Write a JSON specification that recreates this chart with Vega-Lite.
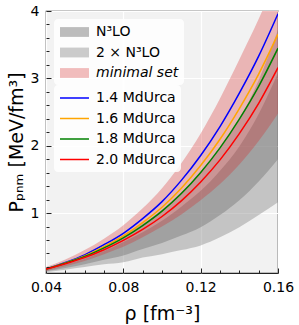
{
  "$schema": "https://vega.github.io/schema/vega-lite/v6.json",
  "width": 232,
  "height": 262,
  "autosize": {"type": "none"},
  "padding": {"left": 46, "top": 11, "right": 21, "bottom": 52},
  "background": "white",
  "config": {
    "view": {"fill": "#f2f2f2", "stroke": "#222222", "strokeWidth": 1.2},
    "font": "DejaVu Sans",
    "axis": {
      "labelFont": "DejaVu Sans", "titleFont": "DejaVu Sans",
      "labelColor": "black", "titleColor": "black",
      "labelFontSize": 14, "titleFontSize": 19, "titleFontWeight": "normal",
      "domain": false, "tickColor": "#222222", "tickWidth": 1,
      "gridColor": "white", "gridWidth": 1.2, "gridOpacity": 1
    },
    "legend": {
      "orient": "top-left", "offset": 8, "padding": 5,
      "fillColor": "rgba(255,255,255,0.85)", "strokeColor": null, "cornerRadius": 4,
      "labelFont": "DejaVu Sans", "labelFontSize": 14, "labelColor": "black", "labelLimit": 300,
      "symbolSize": 196, "rowPadding": 5.5, "labelOffset": 21,
      "layout": {"direction": "vertical", "margin": -9, "top-left": {"direction": "vertical", "margin": -9}}
    }
  },
  "datasets": {
    "bands": [
      {"series": "2 × N³LO", "rho": 0.04, "lo": 0.12, "hi": 0.18},
      {"series": "2 × N³LO", "rho": 0.05, "lo": 0.16, "hi": 0.26},
      {"series": "2 × N³LO", "rho": 0.06, "lo": 0.20, "hi": 0.36},
      {"series": "2 × N³LO", "rho": 0.07, "lo": 0.24, "hi": 0.50},
      {"series": "2 × N³LO", "rho": 0.08, "lo": 0.27, "hi": 0.67},
      {"series": "2 × N³LO", "rho": 0.09, "lo": 0.34, "hi": 0.84},
      {"series": "2 × N³LO", "rho": 0.10, "lo": 0.39, "hi": 1.05},
      {"series": "2 × N³LO", "rho": 0.11, "lo": 0.45, "hi": 1.31},
      {"series": "2 × N³LO", "rho": 0.12, "lo": 0.52, "hi": 1.60},
      {"series": "2 × N³LO", "rho": 0.13, "lo": 0.64, "hi": 1.96},
      {"series": "2 × N³LO", "rho": 0.14, "lo": 0.79, "hi": 2.39},
      {"series": "2 × N³LO", "rho": 0.15, "lo": 0.97, "hi": 2.97},
      {"series": "2 × N³LO", "rho": 0.16, "lo": 1.16, "hi": 3.72},
      {"series": "N³LO", "rho": 0.04, "lo": 0.135, "hi": 0.165},
      {"series": "N³LO", "rho": 0.05, "lo": 0.185, "hi": 0.235},
      {"series": "N³LO", "rho": 0.06, "lo": 0.24, "hi": 0.32},
      {"series": "N³LO", "rho": 0.07, "lo": 0.305, "hi": 0.435},
      {"series": "N³LO", "rho": 0.08, "lo": 0.37, "hi": 0.57},
      {"series": "N³LO", "rho": 0.09, "lo": 0.465, "hi": 0.715},
      {"series": "N³LO", "rho": 0.10, "lo": 0.555, "hi": 0.885},
      {"series": "N³LO", "rho": 0.11, "lo": 0.665, "hi": 1.095},
      {"series": "N³LO", "rho": 0.12, "lo": 0.79, "hi": 1.33},
      {"series": "N³LO", "rho": 0.13, "lo": 0.97, "hi": 1.63},
      {"series": "N³LO", "rho": 0.14, "lo": 1.19, "hi": 1.99},
      {"series": "N³LO", "rho": 0.15, "lo": 1.47, "hi": 2.47},
      {"series": "N³LO", "rho": 0.16, "lo": 1.80, "hi": 3.08},
      {"series": "minimal set", "rho": 0.04, "lo": 0.14, "hi": 0.20},
      {"series": "minimal set", "rho": 0.05, "lo": 0.21, "hi": 0.31},
      {"series": "minimal set", "rho": 0.06, "lo": 0.29, "hi": 0.45},
      {"series": "minimal set", "rho": 0.07, "lo": 0.39, "hi": 0.62},
      {"series": "minimal set", "rho": 0.08, "lo": 0.50, "hi": 0.82},
      {"series": "minimal set", "rho": 0.09, "lo": 0.64, "hi": 1.07},
      {"series": "minimal set", "rho": 0.10, "lo": 0.80, "hi": 1.37},
      {"series": "minimal set", "rho": 0.11, "lo": 0.98, "hi": 1.74},
      {"series": "minimal set", "rho": 0.12, "lo": 1.19, "hi": 2.18},
      {"series": "minimal set", "rho": 0.13, "lo": 1.43, "hi": 2.70},
      {"series": "minimal set", "rho": 0.14, "lo": 1.72, "hi": 3.28},
      {"series": "minimal set", "rho": 0.15, "lo": 2.07, "hi": 3.88},
      {"series": "minimal set", "rho": 0.16, "lo": 2.48, "hi": 4.55}
    ],
    "lines": [
      {"series": "1.4 MdUrca", "rho": 0.04, "p": 0.17},
      {"series": "1.4 MdUrca", "rho": 0.05, "p": 0.266},
      {"series": "1.4 MdUrca", "rho": 0.06, "p": 0.38},
      {"series": "1.4 MdUrca", "rho": 0.07, "p": 0.53},
      {"series": "1.4 MdUrca", "rho": 0.08, "p": 0.70},
      {"series": "1.4 MdUrca", "rho": 0.09, "p": 0.918},
      {"series": "1.4 MdUrca", "rho": 0.10, "p": 1.17},
      {"series": "1.4 MdUrca", "rho": 0.11, "p": 1.485},
      {"series": "1.4 MdUrca", "rho": 0.12, "p": 1.855},
      {"series": "1.4 MdUrca", "rho": 0.13, "p": 2.284},
      {"series": "1.4 MdUrca", "rho": 0.14, "p": 2.78},
      {"series": "1.4 MdUrca", "rho": 0.15, "p": 3.33},
      {"series": "1.4 MdUrca", "rho": 0.16, "p": 3.96},
      {"series": "1.6 MdUrca", "rho": 0.04, "p": 0.17},
      {"series": "1.6 MdUrca", "rho": 0.05, "p": 0.259},
      {"series": "1.6 MdUrca", "rho": 0.06, "p": 0.365},
      {"series": "1.6 MdUrca", "rho": 0.07, "p": 0.502},
      {"series": "1.6 MdUrca", "rho": 0.08, "p": 0.66},
      {"series": "1.6 MdUrca", "rho": 0.09, "p": 0.857},
      {"series": "1.6 MdUrca", "rho": 0.10, "p": 1.086},
      {"series": "1.6 MdUrca", "rho": 0.11, "p": 1.369},
      {"series": "1.6 MdUrca", "rho": 0.12, "p": 1.706},
      {"series": "1.6 MdUrca", "rho": 0.13, "p": 2.096},
      {"series": "1.6 MdUrca", "rho": 0.14, "p": 2.552},
      {"series": "1.6 MdUrca", "rho": 0.15, "p": 3.064},
      {"series": "1.6 MdUrca", "rho": 0.16, "p": 3.656},
      {"series": "1.8 MdUrca", "rho": 0.04, "p": 0.17},
      {"series": "1.8 MdUrca", "rho": 0.05, "p": 0.254},
      {"series": "1.8 MdUrca", "rho": 0.06, "p": 0.354},
      {"series": "1.8 MdUrca", "rho": 0.07, "p": 0.483},
      {"series": "1.8 MdUrca", "rho": 0.08, "p": 0.633},
      {"series": "1.8 MdUrca", "rho": 0.09, "p": 0.815},
      {"series": "1.8 MdUrca", "rho": 0.10, "p": 1.029},
      {"series": "1.8 MdUrca", "rho": 0.11, "p": 1.29},
      {"series": "1.8 MdUrca", "rho": 0.12, "p": 1.603},
      {"series": "1.8 MdUrca", "rho": 0.13, "p": 1.968},
      {"series": "1.8 MdUrca", "rho": 0.14, "p": 2.396},
      {"series": "1.8 MdUrca", "rho": 0.15, "p": 2.882},
      {"series": "1.8 MdUrca", "rho": 0.16, "p": 3.448},
      {"series": "2.0 MdUrca", "rho": 0.04, "p": 0.17},
      {"series": "2.0 MdUrca", "rho": 0.05, "p": 0.248},
      {"series": "2.0 MdUrca", "rho": 0.06, "p": 0.34},
      {"series": "2.0 MdUrca", "rho": 0.07, "p": 0.456},
      {"series": "2.0 MdUrca", "rho": 0.08, "p": 0.595},
      {"series": "2.0 MdUrca", "rho": 0.09, "p": 0.757},
      {"series": "2.0 MdUrca", "rho": 0.10, "p": 0.949},
      {"series": "2.0 MdUrca", "rho": 0.11, "p": 1.181},
      {"series": "2.0 MdUrca", "rho": 0.12, "p": 1.462},
      {"series": "2.0 MdUrca", "rho": 0.13, "p": 1.79},
      {"series": "2.0 MdUrca", "rho": 0.14, "p": 2.18},
      {"series": "2.0 MdUrca", "rho": 0.15, "p": 2.63},
      {"series": "2.0 MdUrca", "rho": 0.16, "p": 3.16}
    ]
  },
  "resolve": {"axis": {"x": "independent", "y": "independent"}},
  "layer": [
    {
      "data": {"name": "bands"},
      "mark": {"type": "area", "clip": true, "interpolate": "monotone", "opacity": 1},
      "encoding": {
        "x": {"field": "rho", "type": "quantitative",
          "scale": {"domain": [0.04, 0.16], "nice": false, "zero": false},
          "axis": {"orient": "bottom", "values": [0.04, 0.08, 0.12, 0.16], "format": ".2f",
            "labelFlush": false, "labelOverlap": false, "tickSize": -5, "labelPadding": 12,
            "grid": true, "title": "ρ [fm⁻³]", "titlePadding": 10}},
        "y": {"field": "lo", "type": "quantitative",
          "scale": {"domain": [0.11, 4], "nice": false, "zero": false},
          "axis": {"orient": "left", "values": [1, 2, 3, 4], "format": "d",
            "labelFlush": false, "labelOverlap": false, "tickSize": -5, "labelPadding": 12,
            "grid": true, "title": "Pₚₙₘ [MeV/fm³]", "titlePadding": 4}},
        "y2": {"field": "hi"},
        "fill": {"field": "series", "type": "nominal",
          "scale": {
            "domain": ["N³LO", "2 × N³LO", "minimal set"],
            "range": ["rgba(128,128,128,0.52)", "rgba(128,128,128,0.4)", "rgba(214,39,40,0.3)"]
          },
          "legend": {
            "title": null,
            "symbolType": "M-1,-0.7H3.14V0.7H-1Z",
            "labelFontStyle": {"expr": "datum.value === 'minimal set' ? 'italic' : 'normal'"}
          }
        }
      }
    },
    {
      "data": {"name": "lines"},
      "mark": {"type": "line", "clip": true, "interpolate": "monotone", "strokeWidth": 1.5},
      "encoding": {
        "x": {"field": "rho", "type": "quantitative", "axis": null},
        "y": {"field": "p", "type": "quantitative", "axis": null},
        "stroke": {"field": "series", "type": "nominal",
          "scale": {"domain": ["1.4 MdUrca", "1.6 MdUrca", "1.8 MdUrca", "2.0 MdUrca"], "range": ["#0000ff", "#ffa500", "#008000", "#ff0000"]},
          "legend": {"title": null, "symbolType": "M-1,0H3.14", "symbolStrokeWidth": 1.5}}
      }
    },
    {
      "data": {"name": "lines"},
      "mark": {"type": "point", "opacity": 0},
      "encoding": {
        "x": {"field": "rho", "type": "quantitative",
          "axis": {"orient": "bottom", "values": [0.05, 0.06, 0.07, 0.09, 0.10, 0.11, 0.13, 0.14, 0.15],
            "labels": false, "grid": false, "tickSize": -3, "title": null, "zindex": 1}},
        "y": {"field": "p", "type": "quantitative",
          "axis": {"orient": "left", "values": [0.2, 0.4, 0.6, 0.8, 1.2, 1.4, 1.6, 1.8, 2.2, 2.4, 2.6, 2.8, 3.2, 3.4, 3.6, 3.8],
            "labels": false, "grid": false, "tickSize": -3, "title": null, "zindex": 1}}
      }
    }
  ]
}
